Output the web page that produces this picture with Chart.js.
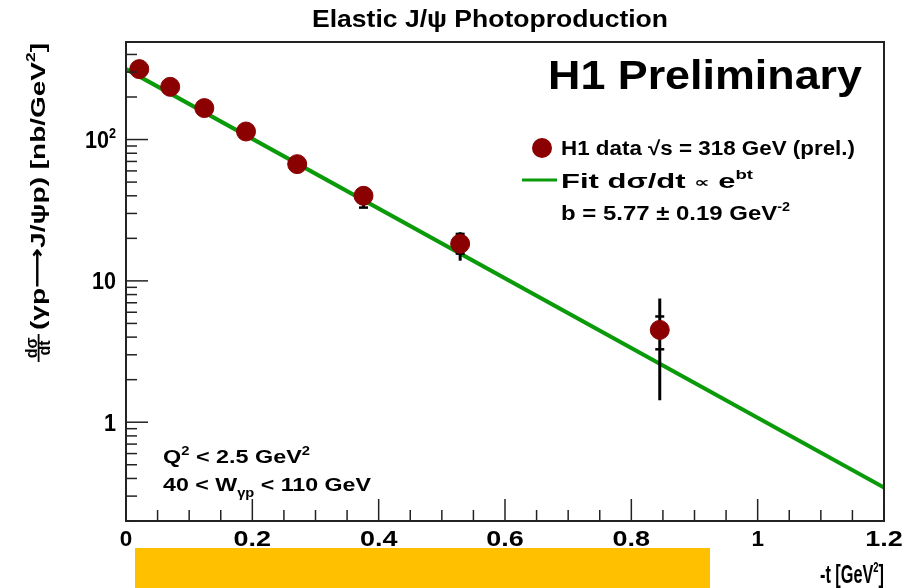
<!DOCTYPE html>
<html>
<head>
<meta charset="utf-8">
<script src="https://cdn.jsdelivr.net/npm/chart.js@4.4.0/dist/chart.umd.min.js"></script>
<style>
  html, body { margin: 0; padding: 0; background: #fff; }
  #wrap { width: 912px; height: 588px; position: relative; }
</style>
</head>
<body>
<div id="wrap"><canvas id="chart" width="912" height="588"></canvas></div>
<script>
// measured points: -t [GeV^2] and dsigma/dt [nb/GeV^2]
const tVals = [0.021, 0.070, 0.124, 0.190, 0.271, 0.376, 0.529, 0.845];
const xsec = [315, 236, 167, 114, 67, 40, 18.3, 4.5];
// statistical (inner, with caps) and total (outer) error bar ends
const statLo = [303, 227, 161, 110, 64.5, 33, 15.6, 3.28];
const statHi = [327, 245, 173, 118, 69.5, 45, 21.5, 5.6];
const totLo = [300, 225, 159, 109, 64, 33, 13.9, 1.43];
const totHi = [330, 247, 175, 119, 70, 45, 22.1, 7.5];
// fit line end points
const fitT = [0, 1.2];
const fitXsec = [315, 0.345];
// axis ticks
const xTicks = [0, 0.2, 0.4, 0.6, 0.8, 1, 1.2];
const xTickLabels = ['0', '0.2', '0.4', '0.6', '0.8', '1', '1.2'];
const yTicks = [1, 10, 100];
const yTickLabels = ['1', '10', '10^2'];

const FONT = '"Liberation Sans", "DejaVu Sans", Arial, sans-serif';
const RED = '#8b0000';
const GREEN = '#0a9a0a';

// draw a run of text pieces [text, size, dy] stretched to a width
function rich(ctx, segs, x, y, align, width, rot) {
  let total = 0;
  const ws = segs.map(s => {
    ctx.font = 'bold ' + s[1] + 'px ' + FONT;
    const w = ctx.measureText(s[0]).width;
    total += w;
    return w;
  });
  const sx = width ? width / total : 1;
  ctx.save();
  ctx.translate(x, y);
  if (rot) ctx.rotate(rot);
  ctx.scale(sx, 1);
  let cx = align === 'left' ? 0 : align === 'center' ? -total / 2 : -total;
  ctx.fillStyle = '#000';
  ctx.textBaseline = 'alphabetic';
  ctx.textAlign = 'left';
  segs.forEach((s, i) => {
    ctx.font = 'bold ' + s[1] + 'px ' + FONT;
    ctx.fillText(s[0], cx, s[2] || 0);
    cx += ws[i];
  });
  ctx.restore();
}

function tickLabel(lbl, size) {
  const p = lbl.split('^');
  const segs = [[p[0], size, 0]];
  if (p[1]) segs.push([p[1], Math.round(size * 0.6), -10]);
  return segs;
}

const errorBars = {
  id: 'errorBars',
  afterDatasetDraw(chart, args) {
    if (args.index !== 0) return;
    const { ctx, scales: { x, y } } = chart;
    ctx.save();
    ctx.strokeStyle = '#000';
    tVals.forEach((t, i) => {
      const px = x.getPixelForValue(t);
      ctx.lineWidth = 3;
      ctx.beginPath();
      ctx.moveTo(px, y.getPixelForValue(totLo[i]));
      ctx.lineTo(px, y.getPixelForValue(totHi[i]));
      ctx.stroke();
      ctx.lineWidth = 2.5;
      [statLo[i], statHi[i]].forEach(v => {
        const py = y.getPixelForValue(v);
        ctx.beginPath();
        ctx.moveTo(px - 4.5, py);
        ctx.lineTo(px + 4.5, py);
        ctx.stroke();
      });
    });
    ctx.restore();
  }
};

const frame = {
  id: 'frame',
  afterDraw(chart) {
    const { ctx, chartArea: a, scales: { x, y } } = chart;
    ctx.save();
    ctx.strokeStyle = '#222';
    ctx.lineWidth = 2;
    ctx.strokeRect(a.left, a.top, a.right - a.left, a.bottom - a.top);

    // x ticks (inside)
    ctx.lineWidth = 1.5;
    for (let k = 0; k <= 24; k++) {
      const v = k * 0.05;
      const px = x.getPixelForValue(v);
      const len = k % 4 === 0 ? 22 : 11;
      ctx.beginPath();
      ctx.moveTo(px, a.bottom);
      ctx.lineTo(px, a.bottom - len);
      ctx.stroke();
    }
    // y ticks (log, inside)
    for (let dec = 0.1; dec <= 100; dec *= 10) {
      for (let m = 1; m <= 9; m++) {
        const v = dec * m;
        if (v < y.min - 1e-9 || v > y.max) continue;
        const py = y.getPixelForValue(v);
        const len = m === 1 ? 22 : 11;
        ctx.beginPath();
        ctx.moveTo(a.left, py);
        ctx.lineTo(a.left + len, py);
        ctx.stroke();
      }
    }

    // tick labels
    xTicks.forEach((v, i) => {
      const s = xTickLabels[i];
      rich(ctx, tickLabel(s, 22), x.getPixelForValue(v), a.bottom + 25, 'center', s.length * 12.5);
    });
    yTicks.forEach((v, i) => {
      rich(ctx, tickLabel(yTickLabels[i], 24), a.left - 10, y.getPixelForValue(v) + 8.5, 'right',
        yTickLabels[i].length === 1 ? 12 : yTickLabels[i].length === 2 ? 24 : 31);
    });

    // title
    rich(ctx, [['Elastic J/\u03c8 Photoproduction', 24, 0]], 490, 27, 'center', 356);

    // x title
    rich(ctx, [['-t [GeV', 26, 0], ['2', 15, -11], [']', 26, 0]], a.right, 583, 'right', 64);

    // y title (rotated)
    const yb = 364, xb = 47;
    ctx.save();
    ctx.translate(xb, yb);
    ctx.rotate(-Math.PI / 2);
    ctx.font = 'bold 16px ' + FONT;
    ctx.fillStyle = '#000';
    ctx.textAlign = 'center';
    ctx.fillText('d\u03c3', 16, -10);
    ctx.fillText('dt', 16, 2.5);
    ctx.fillRect(2, -9.3, 28, 1.8);
    ctx.restore();
    rich(ctx, [['(\u03b3p', 21, 0], ['\u27f6', 21, -1], ['J/\u03c8p) [nb/GeV', 21, 0], ['2', 13, -10], [']', 21, 0]],
      xb - 2, yb - 34, 'left', 287, -Math.PI / 2);

    // H1 Preliminary
    rich(ctx, [['H1 Preliminary', 40, 0]], 548, 89, 'left', 314);

    // legend
    ctx.fillStyle = RED;
    ctx.beginPath();
    ctx.arc(542, 148, 10, 0, Math.PI * 2);
    ctx.fill();
    ctx.strokeStyle = GREEN;
    ctx.lineWidth = 3;
    ctx.beginPath();
    ctx.moveTo(522, 180);
    ctx.lineTo(557, 180);
    ctx.stroke();
    rich(ctx, [['H1 data \u221as = 318 GeV (prel.)', 20, 0]], 561, 155, 'left', 294);
    rich(ctx, [['Fit d\u03c3/dt ', 20, 0], ['\u221d', 14, -1], [' e', 20, 0], ['bt', 12, -9]], 561, 188, 'left', 192);
    rich(ctx, [['b = 5.77 \u00b1 0.19 GeV', 20, 0], ['-2', 12, -9]], 561, 220, 'left', 229);

    // cuts
    rich(ctx, [['Q', 19, 0], ['2', 12, -8], [' < 2.5 GeV', 19, 0], ['2', 12, -8]], 163, 463, 'left', 147);
    rich(ctx, [['40 < W', 19, 0], ['\u03b3p', 12, 6], [' < 110 GeV', 19, 0]], 163, 491, 'left', 208);

    // yellow bar
    ctx.fillStyle = '#ffc000';
    ctx.fillRect(135, 548, 575, 40);
    ctx.restore();
  }
};

const chart = new Chart(document.getElementById('chart').getContext('2d'), {
  type: 'scatter',
  data: {
    datasets: [
      {
        type: 'line',
        label: 'Fit',
        data: fitT.map((t, i) => ({ x: t, y: fitXsec[i] })),
        borderColor: GREEN,
        borderWidth: 4,
        pointRadius: 0,
        fill: false,
        order: 2
      },
      {
        label: 'H1 data',
        data: tVals.map((t, i) => ({ x: t, y: xsec[i] })),
        backgroundColor: RED,
        borderColor: RED,
        pointRadius: 9.5,
        pointHoverRadius: 9.5,
        order: 1
      }
    ]
  },
  options: {
    responsive: false,
    animation: false,
    devicePixelRatio: 1,
    layout: { padding: { left: 126, right: 28, top: 42, bottom: 67 } },
    plugins: { legend: { display: false }, tooltip: { enabled: false } },
    scales: {
      x: { type: 'linear', min: 0, max: 1.2, display: false },
      y: { type: 'logarithmic', min: 0.2, max: 490, display: false }
    }
  },
  plugins: [errorBars, frame]
});
</script>
</body>
</html>
